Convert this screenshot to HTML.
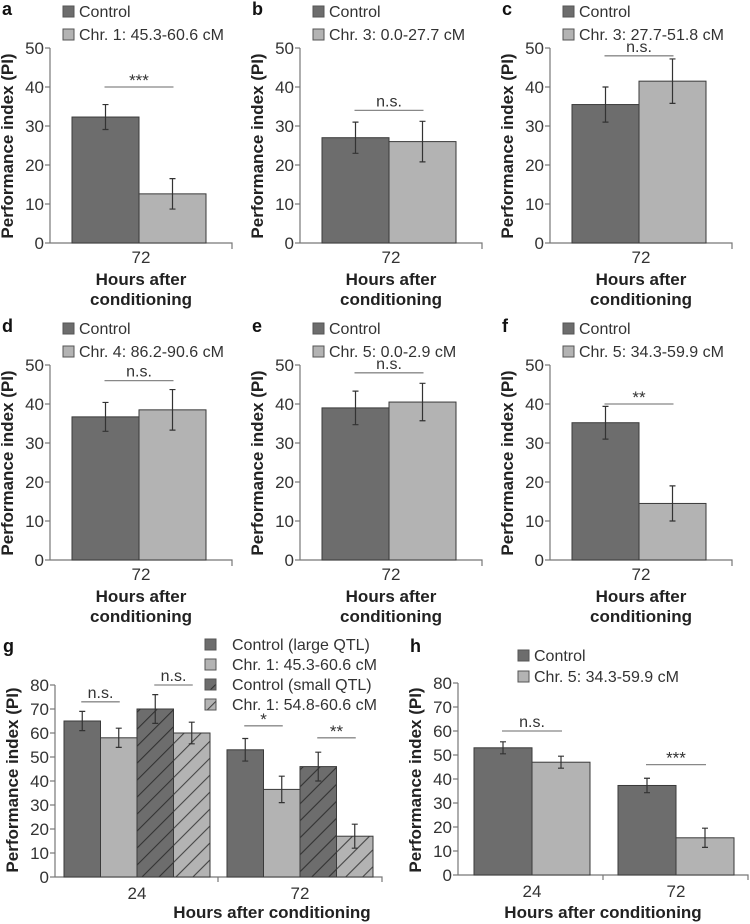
<!DOCTYPE html>
<html><head><meta charset="utf-8"><style>
body{margin:0;background:#fff;}
svg{display:block;font-family:"Liberation Sans",Arial,sans-serif;}
</style></head><body>
<svg id="fig" width="750" height="924" viewBox="0 0 750 924" xmlns="http://www.w3.org/2000/svg">
<defs>
<pattern id="hatchDark" patternUnits="userSpaceOnUse" width="12" height="12" patternTransform="rotate(45)">
<rect width="12" height="12" fill="#6d6d6d"/><line x1="0" y1="0" x2="0" y2="12" stroke="#333" stroke-width="2.2"/></pattern>
<pattern id="hatchLight" patternUnits="userSpaceOnUse" width="12" height="12" patternTransform="rotate(45)">
<rect width="12" height="12" fill="#b3b3b3"/><line x1="0" y1="0" x2="0" y2="12" stroke="#444" stroke-width="2.2"/></pattern>
</defs>
</svg>
<script>
// Small panels a-f
const smallLetters = ["a","b","c","d","e","f"];
const smallLegend2 = ["Chr. 1: 45.3-60.6 cM","Chr. 3: 0.0-27.7 cM","Chr. 3: 27.7-51.8 cM","Chr. 4: 86.2-90.6 cM","Chr. 5: 0.0-2.9 cM","Chr. 5: 34.3-59.9 cM"];
const smallControl = [32.3, 27.0, 35.5, 36.7, 39.0, 35.2];
const smallControlErr = [3.2, 4.0, 4.5, 3.7, 4.3, 4.2];
const smallTest = [12.6, 26.0, 41.5, 38.5, 40.5, 14.5];
const smallTestErr = [3.9, 5.2, 5.7, 5.2, 4.8, 4.5];
const smallSig = ["***","n.s.","n.s.","n.s.","n.s.","**"];
const smallSigLevel = [40, 34, 48, 46, 48, 40];
const smallTicks = [0,10,20,30,40,50];
// Panel g
const gLegend = ["Control (large QTL)","Chr. 1: 45.3-60.6 cM","Control (small QTL)","Chr. 1: 54.8-60.6 cM"];
const gCategories = ["24","72"];
const gValues = [[65,58,70,60],[53,36.5,46,17]];
const gErrors = [[4,4,6,4.5],[4.7,5.5,6,5]];
const gSig = [["n.s.",0,1,73],["n.s.",2,3,80],["*",0,1,63],["**",2,3,58]];
const gTicks = [0,10,20,30,40,50,60,70,80];
// Panel h
const hLegend = ["Control","Chr. 5: 34.3-59.9 cM"];
const hCategories = ["24","72"];
const hValues = [[53,47],[37.3,15.5]];
const hErrors = [[2.5,2.5],[3,4]];
const hSig = [["n.s.",0,1,60],["***",1,1,46]];
const hTicks = [0,10,20,30,40,50,60,70,80];

const svg = document.getElementById('fig');
const NS = "http://www.w3.org/2000/svg";
function mk(tag, attrs, parent, text){
  const e = document.createElementNS(NS, tag);
  for (const k in attrs) e.setAttribute(k, attrs[k]);
  if (text !== undefined) e.textContent = text;
  (parent||svg).appendChild(e);
  return e;
}
const DARK="#6d6d6d", LIGHT="#b3b3b3", EDGE="#3a3a3a", AX="#777";
const fills = [DARK, LIGHT, "url(#hatchDark)", "url(#hatchLight)"];

function yAxis(g, x0, y0, ppu, ticks, midY){
  mk('line',{x1:x0,y1:y0,x2:x0,y2:y0-ppu*ticks[ticks.length-1],stroke:AX,'stroke-width':1.2},g);
  ticks.forEach(t=>{
    const y=y0-t*ppu;
    const tl=mk('line',{x1:x0-5,y1:y,x2:x0,y2:y,stroke:AX,'stroke-width':1.2},g);
    
    
    const tx=mk('text',{x:x0-6,y:y+6,'text-anchor':'end','font-size':17,fill:'#333'},g,String(t));
    
    
  });
  const tt=mk('text',{x:0,y:0,transform:`translate(${x0-37},${midY}) rotate(-90)`,'text-anchor':'middle','font-size':17,'font-weight':'bold',fill:'#222'},g,'Performance index (PI)');
  
  
}
function bar(g, x, w, y0, ppu, v, err, fill){
  const r=mk('rect',{x:x,y:y0-v*ppu,width:w,height:v*ppu,fill:fill,stroke:EDGE,'stroke-width':1},g);
  
  
  const cx=x+w/2, yt=y0-(v+err)*ppu, yb=y0-(v-err)*ppu;
  const eb=mk('path',{d:`M${cx},${yt}V${yb}M${cx-3},${yt}H${cx+3}M${cx-3},${yb}H${cx+3}`,stroke:'#333','stroke-width':1.2,fill:'none'},g);
  
  
}
function sig(g, xa, xb, y, label){
  const l=mk('line',{x1:xa,y1:y,x2:xb,y2:y,stroke:'#888','stroke-width':1.3},g);
  
  
  const star=label.indexOf('*')>=0;
  const t=mk('text',{x:(xa+xb)/2,y:star?y-1:y-4,'text-anchor':'middle','font-size':star?17:16,fill:'#333'},g,label);
  
  
}
function legendEntry(g, x, y, fill, label, gap, fs){
  const grp=mk('g',{},g);
  
  
  mk('rect',{x:x,y:y-11,width:11,height:11,fill:fill,stroke:'#555','stroke-width':1},grp);
  mk('text',{x:x+(gap||16),y:y,'font-size':fs||16,fill:'#333'},grp,label);
}

smallLetters.forEach((L,i)=>{
  const col=i%3,row=Math.floor(i/3);
  const x0=50+250*col, y0=243+317*row, ppu=3.9;
  const g=mk('g',{});
  
  
  const lt=mk('text',{x:x0-48,y:y0-228,'font-size':18,'font-weight':'bold',fill:'#111'},g,L);
  
  
  legendEntry(g,x0+13,y0-226,DARK,'Control');
  legendEntry(g,x0+13,y0-203,LIGHT,smallLegend2[i]);
  yAxis(g,x0,y0,ppu,smallTicks,y0-97);
  const xl=mk('path',{d:`M${x0},${y0}H${x0+182}V${y0+6}`,stroke:AX,'stroke-width':1.2,fill:'none'},g);
  
  
  const bx=x0+22,bw=67;
  bar(g,bx,bw,y0,ppu,smallControl[i],smallControlErr[i],DARK);
  bar(g,bx+bw,bw,y0,ppu,smallTest[i],smallTestErr[i],LIGHT);
  sig(g,bx+bw/2-1,bx+bw*1.5+1,y0-smallSigLevel[i]*ppu,smallSig[i]);
  const xt=mk('text',{x:x0+91,y:y0+20,'text-anchor':'middle','font-size':17,fill:'#333'},g,'72');
  
  
  const t1=mk('text',{x:x0+91,y:y0+42,'text-anchor':'middle','font-size':17,'font-weight':'bold',fill:'#222'},g,'Hours after');
  
  
  mk('text',{x:x0+91,y:y0+62,'text-anchor':'middle','font-size':17,'font-weight':'bold',fill:'#222'},g,'conditioning');
});

// Panel g
(function(){
  const x0=55,y0=877,ppu=2.4;
  const g=mk('g',{});
  
  
  const lt=mk('text',{x:3,y:652,'font-size':18,'font-weight':'bold',fill:'#111'},g,'g');
  
  
  gLegend.forEach((s,k)=>legendEntry(g,205,650+k*20,fills[k],s,27,16));
  yAxis(g,x0,y0,ppu,gTicks,780);
  const xl=mk('path',{d:`M${x0},${y0}H${x0+327}V${y0+5}M${x0+163},${y0}V${y0+5}`,stroke:AX,'stroke-width':1.2,fill:'none'},g);
  
  
  const bw=36.5;
  gCategories.forEach((c,ci)=>{
    const gx=x0+9+ci*163;
    gValues[ci].forEach((v,k)=>bar(g,gx+k*bw,bw,y0,ppu,v,gErrors[ci][k],fills[k]));
    const xt=mk('text',{x:gx+2*bw,y:y0+22,'text-anchor':'middle','font-size':17,fill:'#333'},g,c);
    
    
  });
  gSig.forEach((s,k)=>{
    const ci=k<2?0:1, gx=x0+9+ci*163;
    sig(g,gx+s[1]*bw+bw*0.5-1,gx+s[2]*bw+bw*0.5+1,y0-s[3]*ppu,s[0]);
  });
  const t=mk('text',{x:272,y:918,'text-anchor':'middle','font-size':17,'font-weight':'bold',fill:'#222'},g,'Hours after conditioning');
  
  
})();

// Panel h
(function(){
  const x0=458,y0=875,ppu=2.4;
  const g=mk('g',{});
  
  
  const lt=mk('text',{x:410,y:652,'font-size':18,'font-weight':'bold',fill:'#111'},g,'h');
  
  
  hLegend.forEach((s,k)=>legendEntry(g,518,661+k*21,fills[k],s));
  yAxis(g,x0,y0,ppu,hTicks,780);
  const xl=mk('path',{d:`M${x0},${y0}H${x0+290}V${y0+5}M${x0+145},${y0}V${y0+5}`,stroke:AX,'stroke-width':1.2,fill:'none'},g);
  
  
  const bw=58;
  hCategories.forEach((c,ci)=>{
    const gx=x0+16+ci*144;
    hValues[ci].forEach((v,k)=>bar(g,gx+k*bw,bw,y0,ppu,v,hErrors[ci][k],fills[k]));
    const xt=mk('text',{x:gx+bw,y:y0+22,'text-anchor':'middle','font-size':17,fill:'#333'},g,c);
    
    
  });
  hSig.forEach((s,ci)=>{
    const gx=x0+16+ci*144;
    sig(g,gx+bw*0.5-1,gx+bw*1.5+1,y0-s[3]*ppu,s[0]);
  });
  const t=mk('text',{x:603,y:918,'text-anchor':'middle','font-size':17,'font-weight':'bold',fill:'#222'},g,'Hours after conditioning');
  
  
})();
</script>
</body></html>
